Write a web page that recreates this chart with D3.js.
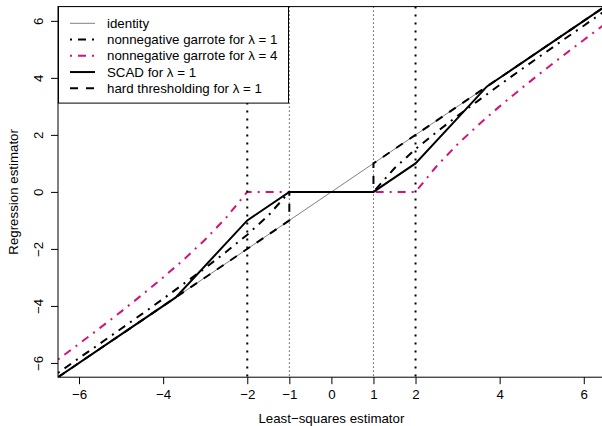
<!DOCTYPE html>
<html>
<head>
<meta charset="utf-8">
<script src="https://cdn.jsdelivr.net/npm/d3@7"></script>
<style>
  body { margin: 0; background: #fff; }
  text { font-family: "Liberation Sans", Arial, Helvetica, sans-serif; font-size: 13.3px; fill: #000; }
</style>
</head>
<body>
<div id="root"></div>
<script>
// Data
const lsX = [-6.5, -6, -5.5, -5, -4.5, -4, -3.5, -3, -2.5, -2, -1.5, -1, 0, 1, 1.5, 2, 2.5, 3, 3.5, 4, 4.5, 5, 5.5, 6, 6.5];
const garrote1Y = [-6.35, -5.83, -5.32, -4.8, -4.28, -3.75, -3.21, -2.67, -2.1, -1.5, -0.83, 0, 0, 0, 0.83, 1.5, 2.1, 2.67, 3.21, 3.75, 4.28, 4.8, 5.32, 5.83, 6.35];
const garrote4Y = [-5.88, -5.33, -4.77, -4.2, -3.61, -3, -2.36, -1.67, -0.9, 0, 0, 0, 0, 0, 0, 0, 0.9, 1.67, 2.36, 3, 3.61, 4.2, 4.77, 5.33, 5.88];
const identityX = [-6.5, 6.5];
const identityY = [-6.5, 6.5];
const scadX = [-6.5, -3.7, -2, -1, 1, 2, 3.7, 6.5];
const scadY = [-6.5, -3.7, -1, 0, 0, 1, 3.7, 6.5];
const hardX = [-6.5, -1, -1, 1, 1, 6.5];
const hardY = [-6.5, -1, 0, 0, 1, 6.5];
const vlineX = [-2, -1, 1, 2];
const xTicks = [-6, -4, -2, -1, 0, 1, 2, 4, 6];
const yTicks = [-6, -4, -2, 0, 2, 4, 6];
const legendLabels = ['identity', 'nonnegative garrote for λ = 1', 'nonnegative garrote for λ = 4', 'SCAD for λ = 1', 'hard thresholding for λ = 1'];

const width = 602, height = 426;
const pink = '#d3127e';

const svg = d3.select('#root').append('svg')
    .attr('width', width)
    .attr('height', height);

// plot region (right edge falls just outside the picture)
const x = d3.scaleLinear().domain([-6.5, 6.5]).range([58, 604.8]);
const y = d3.scaleLinear().domain([-6.5, 6.5]).range([377.2, 6.6]);

svg.append('clipPath').attr('id', 'clip')
  .append('rect')
    .attr('x', x(-6.5)).attr('y', y(6.5))
    .attr('width', x(6.5) - x(-6.5)).attr('height', y(-6.5) - y(6.5));

const plot = svg.append('g').attr('clip-path', 'url(#clip)');
const line = d3.line().x(d => x(d[0])).y(d => y(d[1]));
const zip = (a, b) => a.map((v, i) => [v, b[i]]);

const series = [
    {pts: zip(identityX, identityY), color: '#808080', w: 1, dash: null},
    {pts: zip(lsX, garrote1Y), color: '#000', w: 2, dash: '2,6,8,6'},
    {pts: zip(lsX, garrote4Y), color: pink, w: 2, dash: '2,6,8,6'},
    {pts: zip(scadX, scadY), color: '#000', w: 2, dash: null},
    {pts: zip(hardX, hardY), color: '#000', w: 2, dash: '8,8'}
];

series.forEach(s => {
    plot.append('path')
        .attr('d', line(s.pts))
        .attr('fill', 'none')
        .attr('stroke', s.color)
        .attr('stroke-width', s.w)
        .attr('stroke-dasharray', s.dash);
});

// dotted verticals
plot.selectAll('.vline')
    .data(vlineX)
    .join('line')
    .attr('x1', d => x(d)).attr('x2', d => x(d))
    .attr('y1', y(6.5)).attr('y2', y(-6.5))
    .attr('stroke', '#000')
    .attr('stroke-width', d => Math.abs(d) === 2 ? 2 : 1)
    .attr('stroke-dasharray', d => Math.abs(d) === 2 ? '2,6' : '1,3');

// Axes
const xAxis = d3.axisBottom(x).tickValues(xTicks).tickSize(7).tickPadding(5).tickFormat(d3.format('d'));
const gx = svg.append('g')
    .attr('transform', `translate(0,${y(-6.5)})`)
    .call(xAxis);
gx.select('.domain').remove();
gx.selectAll('text').style('font-size', '13.3px');

const yAxis = d3.axisLeft(y).tickValues(yTicks).tickSize(7).tickFormat(d3.format('d'));
const gy = svg.append('g')
    .attr('transform', `translate(${x(-6.5)},0)`)
    .call(yAxis);
gy.select('.domain').remove();
gy.selectAll('text')
    .attr('transform', 'rotate(-90)')
    .attr('x', 0).attr('y', -15).attr('dy', 0)
    .attr('text-anchor', 'middle')
    .style('font-size', '13.3px');

svg.selectAll('.tick line').attr('stroke', '#000');

// Box
svg.append('rect')
    .attr('x', x(-6.5)).attr('y', y(6.5))
    .attr('width', x(6.5) - x(-6.5)).attr('height', y(-6.5) - y(6.5))
    .attr('fill', 'none').attr('stroke', '#000');

// Axis titles
svg.append('text')
    .attr('text-anchor', 'middle')
    .attr('x', (x(-6.5) + x(6.5)) / 2)
    .attr('y', 422.5)
    .text('Least−squares estimator');
svg.append('text')
    .attr('text-anchor', 'middle')
    .attr('transform', `translate(18,${(y(-6.5) + y(6.5)) / 2})rotate(-90)`)
    .text('Regression estimator');

// Legend
const lg = svg.append('g');
lg.append('rect')
    .attr('x', 58.5).attr('y', 6.6)
    .attr('width', 230).attr('height', 96.5)
    .attr('fill', '#fff').attr('stroke', '#000');
legendLabels.forEach((lab, i) => {
    const s = series[i];
    const ly = 23.3 + i * 16.25;
    lg.append('line')
        .attr('x1', 70).attr('x2', 95)
        .attr('y1', ly).attr('y2', ly)
        .attr('stroke', s.color)
        .attr('stroke-width', s.w)
        .attr('stroke-dasharray', s.dash);
    lg.append('text')
        .attr('x', 107).attr('y', ly).attr('dy', '0.35em')
        .text(lab);
});
</script>
</body>
</html>
